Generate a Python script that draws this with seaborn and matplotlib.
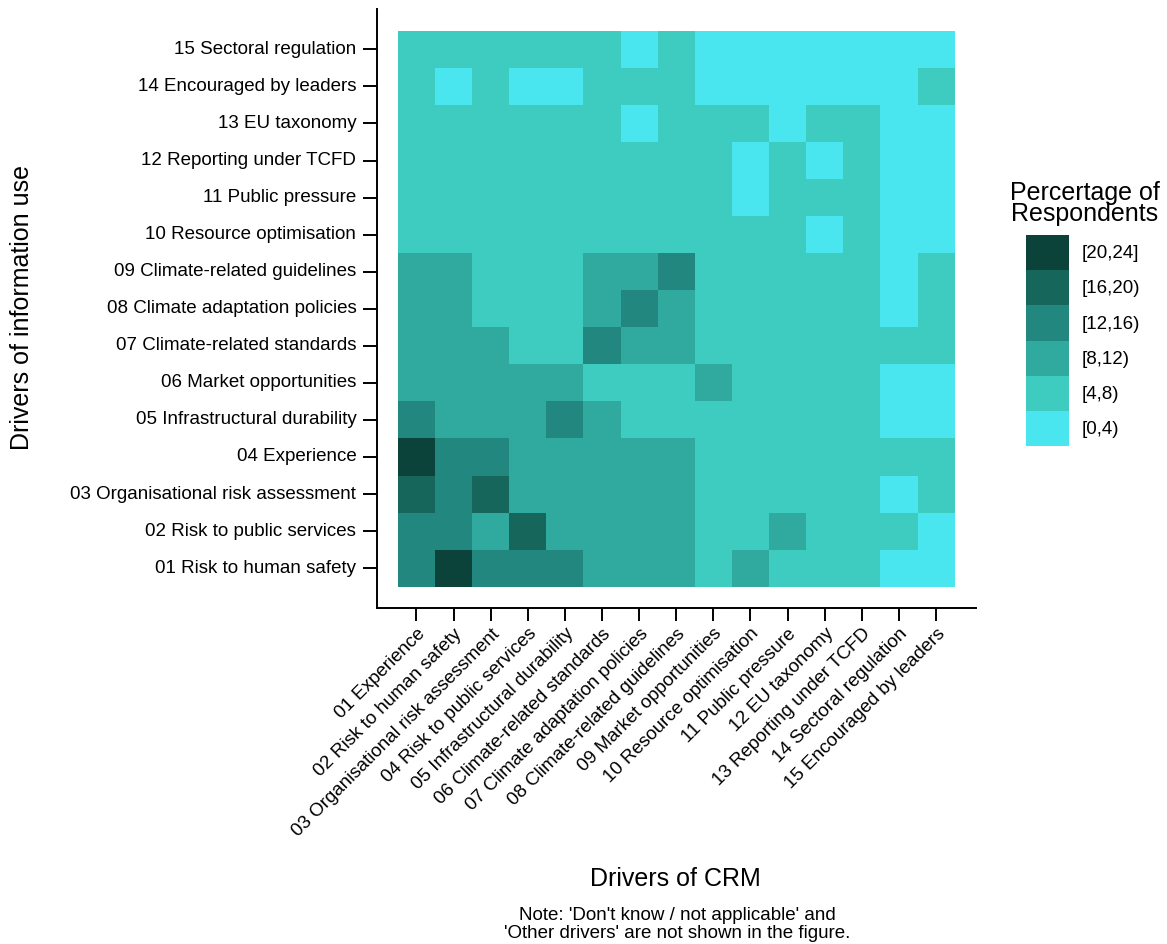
import numpy as np
import pandas as pd
import matplotlib
matplotlib.use("Agg")
import matplotlib.pyplot as plt
from matplotlib.colors import ListedColormap
from matplotlib.patches import Patch
import seaborn as sns

# Drivers of climate risk management (columns, left to right)
crm_drivers = [
    "01 Experience", "02 Risk to human safety", "03 Organisational risk assessment",
    "04 Risk to public services", "05 Infrastructural durability",
    "06 Climate-related standards", "07 Climate adaptation policies",
    "08 Climate-related guidelines", "09 Market opportunities",
    "10 Resource optimisation", "11 Public pressure", "12 EU taxonomy",
    "13 Reporting under TCFD", "14 Sectoral regulation", "15 Encouraged by leaders",
]

# Drivers of information use (rows, bottom to top)
info_drivers = [
    "01 Risk to human safety", "02 Risk to public services",
    "03 Organisational risk assessment", "04 Experience",
    "05 Infrastructural durability", "06 Market opportunities",
    "07 Climate-related standards", "08 Climate adaptation policies",
    "09 Climate-related guidelines", "10 Resource optimisation",
    "11 Public pressure", "12 Reporting under TCFD", "13 EU taxonomy",
    "14 Encouraged by leaders", "15 Sectoral regulation",
]

# Percentage of respondents per CRM driver, one list per information-use driver
pct_info_01 = [14, 22, 14, 14, 14, 10, 10, 10, 6, 10, 6, 6, 6, 2, 2]
pct_info_02 = [14, 14, 10, 18, 10, 10, 10, 10, 6, 6, 10, 6, 6, 6, 2]
pct_info_03 = [18, 14, 18, 10, 10, 10, 10, 10, 6, 6, 6, 6, 6, 2, 6]
pct_info_04 = [22, 14, 14, 10, 10, 10, 10, 10, 6, 6, 6, 6, 6, 6, 6]
pct_info_05 = [14, 10, 10, 10, 14, 10, 6, 6, 6, 6, 6, 6, 6, 2, 2]
pct_info_06 = [10, 10, 10, 10, 10, 6, 6, 6, 10, 6, 6, 6, 6, 2, 2]
pct_info_07 = [10, 10, 10, 6, 6, 14, 10, 10, 6, 6, 6, 6, 6, 6, 6]
pct_info_08 = [10, 10, 6, 6, 6, 10, 14, 10, 6, 6, 6, 6, 6, 2, 6]
pct_info_09 = [10, 10, 6, 6, 6, 10, 10, 14, 6, 6, 6, 6, 6, 2, 6]
pct_info_10 = [6, 6, 6, 6, 6, 6, 6, 6, 6, 6, 6, 2, 6, 2, 2]
pct_info_11 = [6, 6, 6, 6, 6, 6, 6, 6, 6, 2, 6, 6, 6, 2, 2]
pct_info_12 = [6, 6, 6, 6, 6, 6, 6, 6, 6, 2, 6, 2, 6, 2, 2]
pct_info_13 = [6, 6, 6, 6, 6, 6, 2, 6, 6, 6, 2, 6, 6, 2, 2]
pct_info_14 = [6, 2, 6, 2, 2, 6, 6, 6, 2, 2, 2, 2, 2, 2, 6]
pct_info_15 = [6, 6, 6, 6, 6, 6, 2, 6, 2, 2, 2, 2, 2, 2, 2]

# Percentage classes
bin_inner_edges = [4, 8, 12, 16, 20]
bin_labels = ["[0,4)", "[4,8)", "[8,12)", "[12,16)", "[16,20)", "[20,24]"]
bin_colors = ["#4AE6F0", "#3FCCC0", "#30AA9E", "#22877E", "#17665C", "#0B433B"]

rows = [pct_info_01, pct_info_02, pct_info_03, pct_info_04, pct_info_05,
        pct_info_06, pct_info_07, pct_info_08, pct_info_09, pct_info_10,
        pct_info_11, pct_info_12, pct_info_13, pct_info_14, pct_info_15]
pct = pd.DataFrame(rows, index=info_drivers, columns=crm_drivers)
classes = pct.apply(lambda col: np.digitize(col, bin_inner_edges))
# top row of the heatmap is the last driver
classes = classes.iloc[::-1]

sns.set_theme(style="white")
plt.rcParams["font.family"] = ["Liberation Sans", "DejaVu Sans"]
plt.rcParams.update({"text.color": "black", "axes.labelcolor": "black",
                     "xtick.color": "black", "ytick.color": "black"})

W, H = 1167, 944
fig = plt.figure(figsize=(W / 100, H / 100), dpi=100)
ax = fig.add_axes([376.5 / W, 1 - 608 / H, (976 - 376.5) / W, (608 - 9.5) / H])

sns.heatmap(classes, ax=ax, cmap=ListedColormap(bin_colors),
            vmin=-0.5, vmax=len(bin_colors) - 0.5, cbar=False,
            linewidths=0)

# discrete-axis expansion around the grid
pad = 0.575
ax.set_xlim(-pad, len(crm_drivers) + pad)
ax.set_ylim(len(info_drivers) + pad, -pad)
ax.set_xlabel("")
ax.set_ylabel("")

for side in ["left", "bottom"]:
    ax.spines[side].set_visible(True)
    ax.spines[side].set_color("black")
    ax.spines[side].set_linewidth(1.4)
for side in ["top", "right"]:
    ax.spines[side].set_visible(False)

label_size = 13.5
ax.tick_params(axis="both", which="major", bottom=True, left=True,
               direction="out", width=1.4, color="black",
               labelsize=label_size, labelcolor="black")
ax.tick_params(axis="y", length=10, pad=4.5)
ax.tick_params(axis="x", length=9.5, pad=3)
plt.setp(ax.get_yticklabels(), rotation=0, va="center")
plt.setp(ax.get_xticklabels(), rotation=45, ha="right", va="top",
         rotation_mode="anchor")

fig.text(675.5 / W, 1 - 886 / H, "Drivers of CRM", ha="center",
         va="baseline", fontsize=18)
fig.text(22 / W, 1 - 308 / H, "Drivers of information use", rotation=90,
         ha="center", va="center", fontsize=18)
fig.text(677 / W, 1 - 938 / H,
         "Note: 'Don't know / not applicable' and\n"
         "'Other drivers' are not shown in the figure.",
         ha="center", va="baseline", fontsize=label_size,
         multialignment="center", linespacing=1.05)

# legend: title drawn separately, then colour keys from darkest to lightest
fig.text(1085 / W, 1 - 221 / H, "Percertage of\nRespondents", ha="center",
         va="baseline", fontsize=18, linespacing=0.83,
         multialignment="center")
handles = [Patch(facecolor=c, edgecolor="none") for c in bin_colors][::-1]
fig.legend(handles, bin_labels[::-1], loc="upper left",
           bbox_to_anchor=(1026 / W, 1 - 235 / H), frameon=False,
           fontsize=label_size, handlelength=2.29, handleheight=2.51,
           handletextpad=0.69, labelspacing=0, borderpad=0,
           borderaxespad=0)

fig.savefig("out.png", dpi=100)
